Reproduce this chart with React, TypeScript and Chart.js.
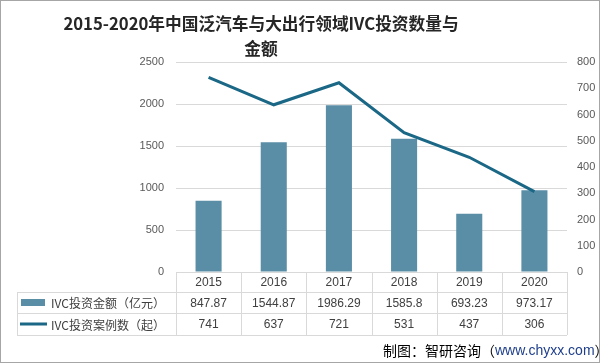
import React, { useEffect, useRef } from "react";
import { Chart, registerables } from "chart.js";

Chart.register(...registerables);

const categories = ["2015", "2016", "2017", "2018", "2019", "2020"];
const amountValues = [847.87, 1544.87, 1986.29, 1585.8, 693.23, 973.17];
const amountLabels = ["847.87", "1544.87", "1986.29", "1585.8", "693.23", "973.17"];
const caseValues = [741, 637, 721, 531, 437, 306];
const caseLabels = ["741", "637", "721", "531", "437", "306"];
const amountName = "IVC投资金额（亿元）";
const caseName = "IVC投资案例数（起）";
const titleLines = ["2015-2020年中国泛汽车与大出行领域IVC投资数量与", "金额"];

const BAR_COLOR = "#5a8ea6";
const LINE_COLOR = "#1a6786";
const GRID = "#d9d9d9";

const tablePlugin = {
  id: "dataTable",
  afterDraw(chart: any) {
    const ctx = chart.ctx;
    const x = chart.scales.x;
    const area = chart.chartArea;
    const top = area.bottom;
    const r1 = 292;
    const r2 = 313;
    const r3 = 335;
    const legendLeft = 17;
    const right = area.right;
    const step = (area.right - area.left) / categories.length;
    ctx.save();
    ctx.strokeStyle = GRID;
    ctx.lineWidth = 1;
    ctx.beginPath();
    ctx.moveTo(area.left, top + 0.5);
    ctx.lineTo(right, top + 0.5);
    [r1, r2, r3].forEach((y) => {
      ctx.moveTo(legendLeft, y + 0.5);
      ctx.lineTo(right, y + 0.5);
    });
    for (let i = 0; i <= categories.length; i++) {
      const vx = Math.round(area.left + step * i) + 0.5;
      ctx.moveTo(vx, top);
      ctx.lineTo(vx, r3);
    }
    ctx.moveTo(legendLeft + 0.5, r1);
    ctx.lineTo(legendLeft + 0.5, r3);
    ctx.stroke();

    ctx.fillStyle = "#404040";
    ctx.textAlign = "center";
    ctx.textBaseline = "middle";
    ctx.font = "12px 'Liberation Sans', Arial, sans-serif";
    categories.forEach((c, i) => {
      const cx = x.getPixelForValue(i);
      ctx.fillText(c, cx, (top + r1) / 2 + 1);
      ctx.fillText(amountLabels[i], cx, (r1 + r2) / 2 + 1);
      ctx.fillText(caseLabels[i], cx, (r2 + r3) / 2 + 1);
    });

    // legend keys
    ctx.fillStyle = BAR_COLOR;
    ctx.fillRect(21, 299, 24, 7);
    ctx.strokeStyle = LINE_COLOR;
    ctx.lineWidth = 3;
    ctx.beginPath();
    ctx.moveTo(20, 324);
    ctx.lineTo(47, 324);
    ctx.stroke();

    ctx.fillStyle = "#404040";
    ctx.textAlign = "left";
    ctx.font = "12px 'Noto Sans CJK SC', sans-serif";
    ctx.fillText(amountName, 51, (r1 + r2) / 2 + 1);
    ctx.fillText(caseName, 51, (r2 + r3) / 2 + 1);

    // title
    ctx.fillStyle = "#262626";
    ctx.textAlign = "center";
    ctx.font = "bold 16.7px 'Noto Sans CJK SC', sans-serif";
    ctx.fillText(titleLines[0], 261, 24);
    ctx.fillText(titleLines[1], 261, 49);

    // source
    ctx.textAlign = "left";
    ctx.font = "14px 'Noto Sans CJK SC', sans-serif";
    const s1 = "制图：智研咨询（";
    const s2 = "www.chyxx.com";
    const s3 = "）";
    let sx = 383;
    const sy = 351;
    ctx.fillStyle = "#000000";
    ctx.fillText(s1, sx, sy);
    sx += ctx.measureText(s1).width;
    ctx.font = "14px 'Liberation Sans', Arial, sans-serif";
    ctx.fillStyle = "#1f3f8c";
    ctx.fillText(s2, sx, sy);
    sx += ctx.measureText(s2).width;
    ctx.font = "14px 'Noto Sans CJK SC', sans-serif";
    ctx.fillStyle = "#000000";
    ctx.fillText(s3, sx, sy);
    ctx.restore();
  },
};

export default function App() {
  const ref = useRef<HTMLCanvasElement>(null);
  useEffect(() => {
    const chart = new Chart(ref.current as HTMLCanvasElement, {
      type: "bar",
      data: {
        labels: categories,
        datasets: [
          {
            type: "line",
            label: caseName,
            data: caseValues,
            yAxisID: "y1",
            borderColor: LINE_COLOR,
            backgroundColor: LINE_COLOR,
            borderWidth: 3,
            pointRadius: 0,
            tension: 0,
            order: 0,
          } as any,
          {
            type: "bar",
            label: amountName,
            data: amountValues,
            yAxisID: "y",
            backgroundColor: BAR_COLOR,
            categoryPercentage: 1,
            barPercentage: 0.4,
            order: 1,
          },
        ],
      },
      options: {
        responsive: false,
        animation: false,
        layout: { padding: { top: 62, left: 0, right: 0, bottom: 0 } },
        plugins: {
          legend: { display: false },
          title: { display: false },
          tooltip: { enabled: false },
        },
        scales: {
          x: {
            grid: { display: false },
            border: { display: false },
            ticks: { display: false },
            afterFit: (s: any) => {
              s.height = 91;
            },
          },
          y: {
            position: "left",
            min: 0,
            max: 2500,
            ticks: {
              stepSize: 500,
              padding: 12,
              color: "#595959",
              font: { size: 11, family: "'Liberation Sans', Arial, sans-serif" },
              callback: (v: any) => String(v),
            },
            grid: { color: GRID, drawTicks: false },
            border: { display: false },
            afterFit: (s: any) => {
              s.width = 176;
            },
          },
          y1: {
            position: "right",
            min: 0,
            max: 800,
            ticks: {
              stepSize: 100,
              padding: 10,
              color: "#595959",
              font: { size: 11, family: "'Liberation Sans', Arial, sans-serif" },
              callback: (v: any) => String(v),
            },
            grid: { display: false, drawTicks: false },
            border: { display: false },
            afterFit: (s: any) => {
              s.width = 33;
            },
          },
        },
      } as any,
      plugins: [tablePlugin],
    });
    return () => chart.destroy();
  }, []);
  return (
    <div
      style={{
        position: "fixed",
        left: 0,
        top: 0,
        width: 600,
        height: 363,
        background: "#ffffff",
        boxSizing: "border-box",
        border: "1px solid #a6a6a6",
        overflow: "hidden",
      }}
    >
      <canvas
        ref={ref}
        width={600}
        height={363}
        style={{ position: "absolute", left: -1, top: -1, width: 600, height: 363 }}
      />
    </div>
  );
}
